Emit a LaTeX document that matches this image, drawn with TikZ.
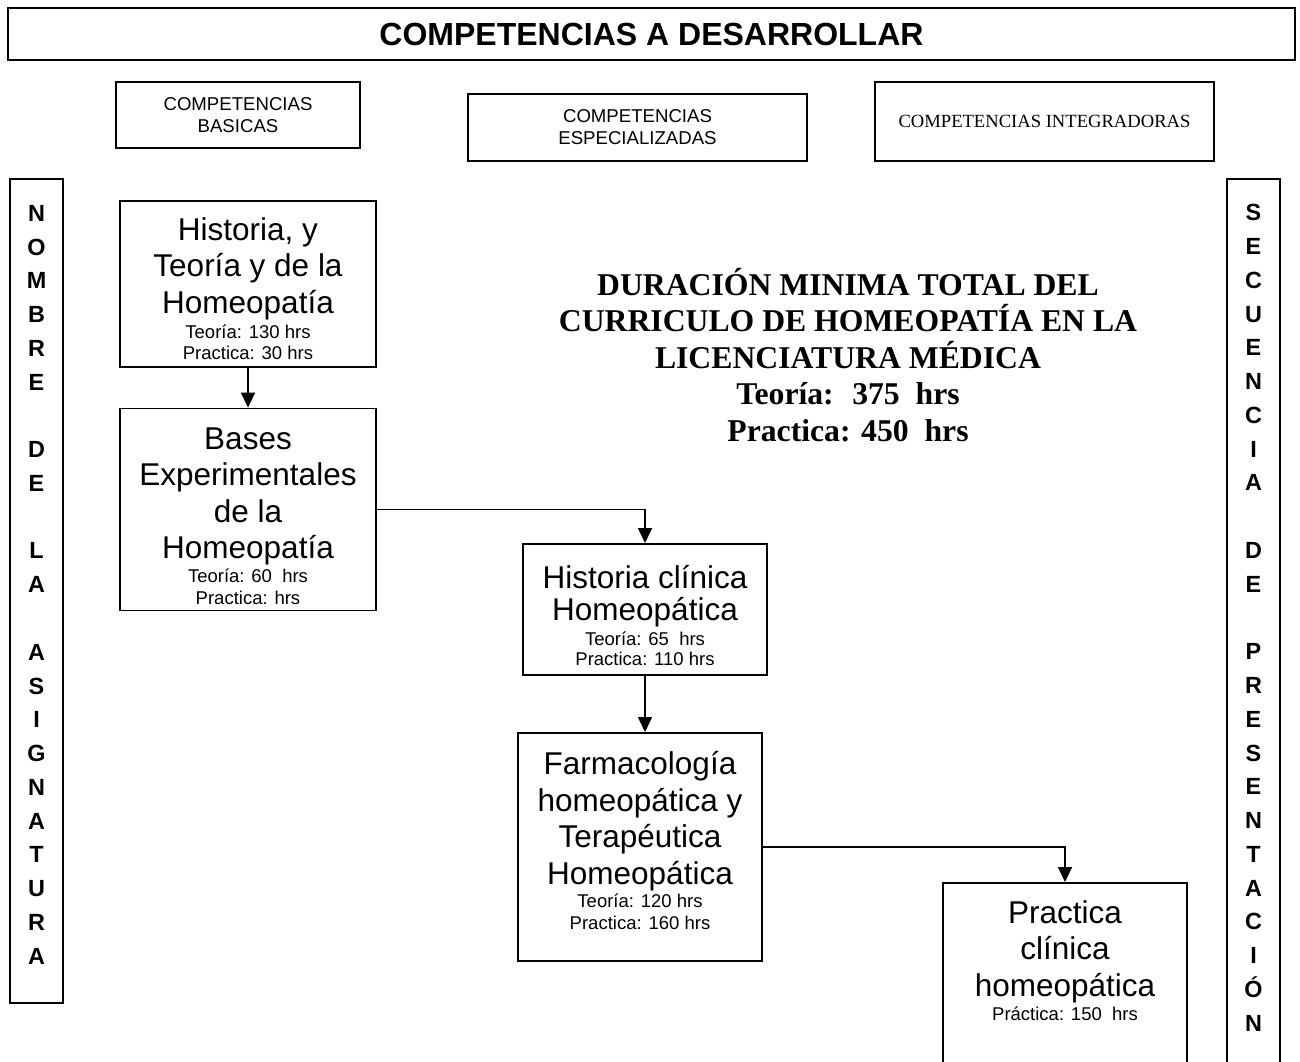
\documentclass[tikz,border=0pt]{standalone}
\usepackage{fontspec}
\setmainfont{Liberation Sans}
\newfontfamily\tnr{Liberation Serif}
\usetikzlibrary{arrows.meta,positioning}
\newcommand\bigtxt{\fontsize{15.75}{18.25}\selectfont}
\newcommand\smalltxt{\fontsize{9.25}{10.5}\selectfont}
\tikzset{
  box/.style={draw,line width=0.8pt,align=center,inner sep=0pt,anchor=north,
              minimum width=122pt,font=\bigtxt},
  comp/.style={draw,line width=0.8pt,align=center,inner sep=0pt,
               font=\fontsize{9.3}{11}\selectfont},
  col/.style={draw,line width=0.8pt,align=center,anchor=north,inner sep=0pt,
              minimum width=26.5pt,font=\fontsize{11.7}{16.886}\selectfont\bfseries},
  ar/.style={-{Triangle[length=7.5pt,width=7pt]},line width=0.8pt},
}
\begin{document}
\begin{tikzpicture}[x=0.5pt,y=-0.5pt]
    \useasboundingbox (0,0) rectangle (1300,1061);
    % encabezado
    \node[draw,line width=0.8pt,minimum width=643.5pt,minimum height=26pt,
          font=\fontsize{16}{19}\selectfont\bfseries] (titulo) at (651.5,34) {COMPETENCIAS A DESARROLLAR};
    \node[comp,minimum width=122pt,minimum height=33pt] (basicas) at (238,115) {COMPETENCIAS\\BASICAS};
    \node[comp,minimum width=169.5pt,minimum height=33.5pt] (espec) at (637.5,127.5) {COMPETENCIAS\\ESPECIALIZADAS};
    \node[comp,minimum width=169.5pt,minimum height=39.5pt,font=\tnr\fontsize{9.3}{11}\selectfont] (integ) at (1044.5,121.5) {COMPETENCIAS INTEGRADORAS};
    % columnas laterales
    \node[col,text height=392.7pt,text depth=19.3pt] (nombre) at (36.5,178)
      {N\\O\\M\\B\\R\\E\\~\\D\\E\\~\\L\\A\\~\\A\\S\\I\\G\\N\\A\\T\\U\\R\\A};
    \node[col,text height=426.2pt,text depth=34.8pt] (secuencia) at (1253.5,178)
      {S\\E\\C\\U\\E\\N\\C\\I\\A\\~\\D\\E\\~\\P\\R\\E\\S\\E\\N\\T\\A\\C\\I\\Ó\\N};
    % asignaturas
    \node[box,minimum width=128pt,text height=79.3pt,text depth=3.7pt] (hist) at (248,200)
      {Historia, y\\Teoría y de la\\Homeopatía\\[-5.6pt]{\smalltxt Teoría: 130 hrs}\\[-7.75pt]{\smalltxt Practica: 30 hrs}};
    \node[box,minimum width=128pt,text height=97.8pt,text depth=3.2pt,below=20pt of hist] (bases)
      {Bases\\Experimentales\\de la\\Homeopatía\\[-6.6pt]{\smalltxt Teoría: 60~ hrs}\\[-7.25pt]{\smalltxt Practica: hrs}};
    \node[box,text height=60.8pt,text depth=4.7pt] (clin) at (645,543)
      {Historia clínica\\[-2.25pt]Homeopática\\[-5.6pt]{\smalltxt Teoría: 65~ hrs}\\[-8.25pt]{\smalltxt Practica: 110 hrs}};
    \node[box,text height=98.3pt,text depth=15.7pt] (farm) at (640,732)
      {Farmacología\\homeopática y\\Terapéutica\\Homeopática\\[-6.6pt]{\smalltxt Teoría: 120 hrs}\\[-7.25pt]{\smalltxt Practica: 160 hrs}};
    \node[box,text height=68.8pt,text depth=40.2pt] (prac) at (1065,882)
      {Practica\\clínica\\homeopática\\[-6.25pt]{\smalltxt Práctica: 150~ hrs}};
    % duracion total
    \node[align=center,font=\tnr\fontsize{15.85}{18.25}\selectfont\bfseries] (total) at (848,355)
      {DURACIÓN MINIMA TOTAL DEL\\CURRICULO DE HOMEOPATÍA EN LA\\LICENCIATURA MÉDICA\\Teoría:~ 375~ hrs\\Practica: 450~ hrs};
    \draw[ar](hist)--(bases);
    \draw[ar](bases)-|(clin);
    \draw[ar](clin.south)--(clin.south |- farm.north);
    \draw[ar](farm)-|(prac);
  \end{tikzpicture}
\end{document}
